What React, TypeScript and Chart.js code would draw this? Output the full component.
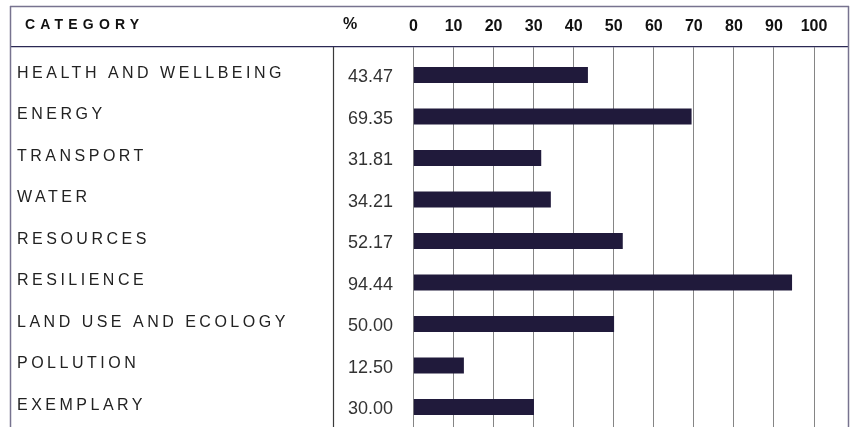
import { useEffect, useRef } from "react";
import { Chart, registerables } from "chart.js";

Chart.register(...registerables);

const categories = [
  "HEALTH AND WELLBEING",
  "ENERGY",
  "TRANSPORT",
  "WATER",
  "RESOURCES",
  "RESILIENCE",
  "LAND USE AND ECOLOGY",
  "POLLUTION",
  "EXEMPLARY",
];
const percentages = [43.47, 69.35, 31.81, 34.21, 52.17, 94.44, 50.0, 12.5, 30.0];
const axisMin = 0;
const axisMax = 100;
const axisStep = 10;
const headerCategory = "CATEGORY";
const headerPercent = "%";

const FONT = '"Liberation Sans", Arial, Helvetica, sans-serif';

const tablePlugin = {
  id: "tableFrame",
  afterDraw(chart: any) {
    const { ctx } = chart;
    const yScale = chart.scales.y;
    const H = chart.height;
    const line = (x1: number, y1: number, x2: number, y2: number) => {
      ctx.beginPath();
      ctx.moveTo(x1, y1);
      ctx.lineTo(x2, y2);
      ctx.stroke();
    };
    ctx.save();
    // header bottom line
    ctx.strokeStyle = "#2b2954";
    ctx.lineWidth = 1.3;
    line(10, 46.7, 849, 46.7);
    // category / % separator
    ctx.strokeStyle = "#3a3a3a";
    ctx.lineWidth = 1.2;
    line(333.5, 47, 333.5, H);
    // outer border
    ctx.strokeStyle = "#77738f";
    ctx.lineWidth = 1.5;
    line(10.5, 6, 10.5, H);
    line(10, 6.5, 849, 6.5);
    line(848.5, 6, 848.5, H);

    // header text
    ctx.textBaseline = "middle";
    ctx.textAlign = "left";
    ctx.fillStyle = "#111111";
    ctx.font = `bold 14px ${FONT}`;
    (ctx as any).letterSpacing = "5.2px";
    ctx.fillText(headerCategory, 25, 25);
    (ctx as any).letterSpacing = "0px";
    ctx.font = `bold 16px ${FONT}`;
    ctx.fillText(headerPercent, 343, 25);

    categories.forEach((cat, i) => {
      const cy = yScale.getPixelForValue(i);
      ctx.font = `16px ${FONT}`;
      (ctx as any).letterSpacing = "3.5px";
      ctx.fillStyle = "#222222";
      ctx.fillText(cat, 17, cy - 1.5);
      (ctx as any).letterSpacing = "0px";
      ctx.font = `18px ${FONT}`;
      ctx.fillStyle = "#333333";
      ctx.fillText(percentages[i].toFixed(2), 348, cy + 2.3);
    });
    ctx.restore();
  },
};

export default function App() {
  const canvasRef = useRef<HTMLCanvasElement | null>(null);

  useEffect(() => {
    document.body.style.margin = "0";
    const canvas = canvasRef.current;
    if (!canvas) return;
    const chart = new Chart(canvas, {
      type: "bar",
      data: {
        labels: categories,
        datasets: [
          {
            data: percentages,
            backgroundColor: "#201a3b",
            borderWidth: 0,
            barThickness: 15.5,
          },
        ],
      },
      options: {
        indexAxis: "y",
        responsive: false,
        animation: false,
        events: [],
        layout: {
          padding: { left: 413.5, right: 36, top: 6.25, bottom: 0.25 },
        },
        plugins: {
          legend: { display: false },
          tooltip: { enabled: false },
        },
        scales: {
          y: {
            type: "category",
            display: false,
            grid: { display: false },
          },
          x: {
            type: "linear",
            position: "top",
            min: axisMin,
            max: axisMax,
            border: { display: false },
            grid: {
              color: "#858585",
              lineWidth: 1,
              tickLength: 7,
              drawTicks: true,
            },
            ticks: {
              stepSize: axisStep,
              padding: 10.9,
              color: "#111111",
              maxRotation: 0,
              autoSkip: false,
              font: { family: FONT, size: 16, weight: "bold" },
            },
          },
        },
      },
      plugins: [tablePlugin],
    });
    return () => chart.destroy();
  }, []);

  return (
    <div
      style={{
        position: "fixed",
        left: 0,
        top: 0,
        width: 850,
        height: 427,
        overflow: "hidden",
        background: "#ffffff",
      }}
    >
      <canvas ref={canvasRef} width={850} height={428} style={{ display: "block" }} />
    </div>
  );
}
